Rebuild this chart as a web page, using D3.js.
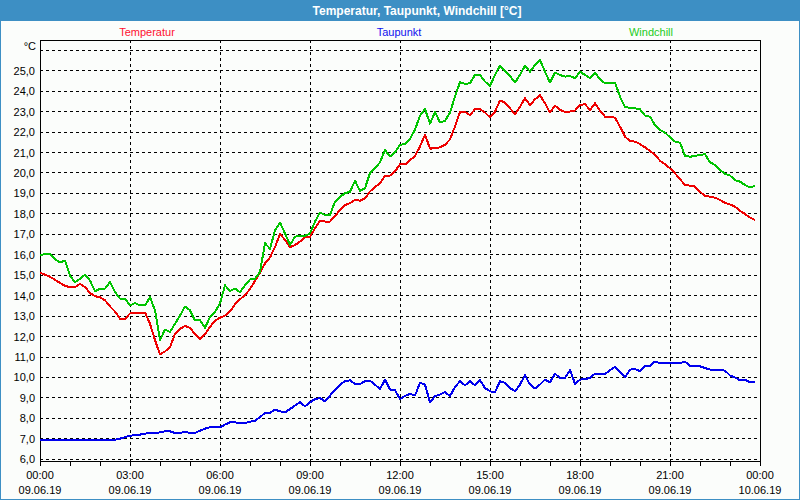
<!DOCTYPE html>
<html>
<head>
<meta charset="utf-8">
<script src="https://cdn.jsdelivr.net/npm/d3@7"></script>
<style>
  html, body { margin: 0; padding: 0; background: #ffffff; }
  svg { display: block; font-family: "Liberation Sans", Arial, sans-serif; }
</style>
</head>
<body>
<svg id="chart" width="800" height="500"></svg>
<script>
// Messwerte alle 10 Minuten, 09.06.19 00:00 bis 23:50
const temperatur = [
  15.1, 15.0, 14.9, 14.75, 14.6, 14.45, 14.4, 14.4, 14.55, 14.4, 14.1, 13.95,
  13.9, 13.75, 13.45, 13.2, 12.85, 12.85, 13.1, 13.15, 13.15, 13.15, 12.6, 11.8,
  11.1, 11.25, 11.45, 12.1, 12.35, 12.5, 12.4, 12.1, 11.85, 12.1, 12.45, 12.75,
  12.9, 13.0, 13.2, 13.55, 13.8, 14.0, 14.3, 14.7, 15.1, 15.55, 15.85, 16.35,
  17.0, 16.7, 16.35, 16.45, 16.62, 16.83, 16.86, 17.27, 17.64, 17.6, 17.6, 17.87,
  18.17, 18.41, 18.5, 18.66, 18.62, 18.74, 19.07, 19.3, 19.46, 19.85, 19.85, 20.05,
  20.41, 20.39, 20.6, 20.81, 21.27, 21.85, 21.17, 21.18, 21.23, 21.35, 21.62, 22.25,
  22.96, 22.96, 22.81, 23.1, 23.1, 22.93, 22.7, 22.98, 23.52, 23.42, 23.14, 22.85,
  23.22, 23.63, 23.3, 23.58, 23.78, 23.39, 22.93, 23.27, 23.06, 22.96, 22.98, 23.03,
  23.3, 23.34, 23.06, 23.39, 23.03, 22.73, 22.73, 22.68, 22.24, 21.75, 21.54, 21.51,
  21.39, 21.23, 21.05, 20.86, 20.58, 20.4, 20.2, 19.96, 19.67, 19.39, 19.36, 19.31,
  19.06, 18.85, 18.82, 18.77, 18.65, 18.52, 18.44, 18.33, 18.13, 17.97, 17.8, 17.68
];

const taupunkt = [
  6.9, 6.93, 6.93, 6.93, 6.93, 6.93, 6.93, 6.93, 6.93, 6.93, 6.93, 6.93,
  6.93, 6.93, 6.93, 6.93, 6.98, 7.06, 7.13, 7.15, 7.18, 7.23, 7.26, 7.26,
  7.29, 7.34, 7.34, 7.26, 7.26, 7.31, 7.26, 7.26, 7.37, 7.47, 7.54, 7.54,
  7.54, 7.67, 7.78, 7.78, 7.75, 7.75, 7.81, 7.86, 8.04, 8.24, 8.24, 8.4,
  8.32, 8.27, 8.43, 8.6, 8.76, 8.56, 8.76, 8.92, 8.97, 8.81, 9.09, 9.38,
  9.62, 9.79, 9.84, 9.66, 9.66, 9.79, 9.82, 9.62, 9.41, 9.87, 9.38, 9.35,
  8.92, 9.07, 9.17, 9.09, 9.71, 9.63, 8.76, 9.06, 9.14, 9.27, 9.06, 9.51,
  9.79, 9.59, 9.79, 9.59, 9.84, 9.46, 9.3, 9.25, 9.79, 9.71, 9.46, 9.3,
  9.63, 10.08, 9.63, 9.43, 9.63, 9.87, 9.74, 10.16, 9.95, 9.95, 10.33, 9.67,
  9.87, 9.9, 9.95, 10.16, 10.15, 10.15, 10.33, 10.49, 10.23, 9.98, 10.36, 10.39,
  10.28, 10.52, 10.55, 10.76, 10.68, 10.68, 10.68, 10.68, 10.68, 10.76, 10.52, 10.52,
  10.52, 10.44, 10.36, 10.33, 10.33, 10.31, 10.07, 9.98, 9.84, 9.87, 9.74, 9.74
];

const windchill = [
  15.94, 16.02, 16.0, 15.75, 15.6, 15.7, 14.95, 14.64, 14.8, 15.0, 14.72, 14.19,
  14.32, 14.32, 14.64, 14.15, 13.83, 13.83, 13.5, 13.62, 13.5, 13.5, 13.9, 13.26,
  11.8, 12.32, 12.2, 12.6, 13.0, 13.45, 13.26, 12.77, 12.77, 12.41, 12.93, 13.18,
  13.6, 14.48, 14.2, 14.32, 14.15, 14.48, 14.77, 14.8, 15.13, 16.54, 16.27, 17.16,
  17.55, 17.02, 16.45, 16.86, 16.9, 16.9, 17.02, 17.6, 18.04, 17.92, 17.92, 18.57,
  18.82, 18.98, 19.06, 19.6, 19.1, 19.23, 19.97, 20.2, 20.5, 21.1, 20.78, 20.98,
  21.36, 21.38, 21.65, 22.09, 22.78, 23.1, 22.39, 22.96, 22.45, 22.52, 22.93, 23.72,
  24.42, 24.33, 24.37, 24.77, 24.77, 24.45, 24.23, 24.77, 25.23, 24.98, 24.72, 24.4,
  24.77, 25.23, 24.93, 25.26, 25.5, 24.93, 24.4, 24.89, 24.77, 24.69, 24.72, 24.61,
  24.93, 24.77, 24.61, 24.89, 24.56, 24.36, 24.4, 24.4, 23.71, 23.19, 23.17, 23.14,
  23.09, 22.78, 22.73, 22.32, 22.08, 21.95, 21.72, 21.51, 21.46, 20.82, 20.77, 20.81,
  20.86, 20.89, 20.5, 20.37, 20.12, 19.93, 19.85, 19.63, 19.55, 19.39, 19.27, 19.34
];

const yTicks = [6, 7, 8, 9, 10, 11, 12, 13, 14, 15, 16, 17, 18, 19, 20, 21, 22, 23, 24, 25];
const xTickTimes = ["00:00", "03:00", "06:00", "09:00", "12:00", "15:00", "18:00", "21:00", "00:00"];
const xTickDates = ["09.06.19", "09.06.19", "09.06.19", "09.06.19", "09.06.19", "09.06.19", "09.06.19", "09.06.19", "10.06.19"];

const seriesNames = ["Temperatur", "Taupunkt", "Windchill"];

const width = 800;
const height = 500;
const margin = { top: 40, right: 40, bottom: 39, left: 40 };

const start = new Date(2019, 5, 9, 0, 0);
const end = new Date(2019, 5, 10, 0, 0);
const times = temperatur.map((d, i) => d3.timeMinute.offset(start, i * 10));

const x = d3.scaleTime()
  .domain([start, end])
  .range([margin.left, width - margin.right]);

const y = d3.scaleLinear()
  .domain([5.89, 26.48])
  .range([height - margin.bottom, margin.top]);

const svg = d3.select("#chart");

// Hintergrund + Fensterrahmen
svg.append("rect")
  .attr("x", 0).attr("y", 0)
  .attr("width", width).attr("height", height)
  .attr("fill", "#3d8fc4");
svg.append("rect")
  .attr("x", 1).attr("y", 21)
  .attr("width", width - 2).attr("height", height - 22)
  .attr("fill", "#fbfdfb");

// Titel
svg.append("text")
  .attr("x", 417)
  .attr("y", 15)
  .attr("text-anchor", "middle")
  .attr("fill", "#ffffff")
  .style("font-size", "12px")
  .style("font-weight", "bold")
  .text("Temperatur, Taupunkt, Windchill [°C]");

// Legende
const legendColors = ["#ff1030", "#1010ee", "#22cc22"];
const legendX = [147, 399, 651];
svg.selectAll("text.legend")
  .data(seriesNames)
  .enter()
  .append("text")
  .attr("class", "legend")
  .attr("x", (d, i) => legendX[i])
  .attr("y", 36)
  .attr("text-anchor", "middle")
  .attr("fill", (d, i) => legendColors[i])
  .style("font-size", "11px")
  .text((d) => d);

// Gitter horizontal (inkl. 26 ohne Beschriftung)
svg.append("g")
  .selectAll("line")
  .data(yTicks.concat([26]))
  .enter()
  .append("line")
  .attr("x1", margin.left)
  .attr("x2", width - margin.right)
  .attr("y1", (d) => Math.round(y(d)) + 0.5)
  .attr("y2", (d) => Math.round(y(d)) + 0.5)
  .attr("stroke", "#000")
  .attr("stroke-dasharray", "3,3")
  .attr("shape-rendering", "crispEdges");

// Gitter vertikal
const vGrid = d3.timeHour.every(3).range(d3.timeHour.offset(start, 3), end);
svg.append("g")
  .selectAll("line")
  .data(vGrid)
  .enter()
  .append("line")
  .attr("x1", (d) => Math.round(x(d)) + 0.5)
  .attr("x2", (d) => Math.round(x(d)) + 0.5)
  .attr("y1", margin.top)
  .attr("y2", height - margin.bottom)
  .attr("stroke", "#000")
  .attr("stroke-dasharray", "3,3")
  .attr("shape-rendering", "crispEdges");

// Rahmen
svg.append("rect")
  .attr("x", margin.left + 0.5)
  .attr("y", margin.top + 0.5)
  .attr("width", width - margin.left - margin.right)
  .attr("height", height - margin.top - margin.bottom)
  .attr("fill", "none")
  .attr("stroke", "#000")
  .attr("shape-rendering", "crispEdges");

// x-Achse: Striche jede Stunde
const xAxis = d3.axisBottom(x)
  .ticks(d3.timeHour.every(1))
  .tickSize(4)
  .tickSizeOuter(0)
  .tickFormat("");
const gx = svg.append("g")
  .attr("transform", `translate(0, ${height - margin.bottom + 0.5})`)
  .call(xAxis);
gx.select(".domain").remove();
gx.selectAll("line").attr("stroke", "#000").attr("shape-rendering", "crispEdges");

// x-Beschriftung
const labelTimes = d3.timeHour.every(3).range(start, d3.timeMinute.offset(end, 1));
const xl = svg.append("g")
  .selectAll("text")
  .data(labelTimes)
  .enter()
  .append("text")
  .attr("text-anchor", "middle")
  .attr("fill", "#000")
  .style("font-size", "11px");
xl.append("tspan")
  .attr("x", (d) => x(d))
  .attr("y", 479)
  .text((d, i) => xTickTimes[i]);
xl.append("tspan")
  .attr("x", (d) => x(d))
  .attr("y", 494)
  .text((d, i) => xTickDates[i]);

// y-Beschriftung
svg.append("g")
  .selectAll("text")
  .data(yTicks)
  .enter()
  .append("text")
  .attr("x", 35)
  .attr("y", (d) => y(d) + 4.5)
  .attr("text-anchor", "end")
  .attr("fill", "#000")
  .style("font-size", "11px")
  .text((d) => d.toFixed(1).replace(".", ","));

svg.append("text")
  .attr("x", 36)
  .attr("y", 50)
  .attr("text-anchor", "end")
  .attr("fill", "#000")
  .style("font-size", "11px")
  .text("°C");

// Kurven (ohne Kantenglättung wie im Original)
const line = d3.line()
  .x((d, i) => x(times[i]))
  .y((d) => y(d));

const lineColors = ["#ee0000", "#0000ee", "#00c400"];
[temperatur, taupunkt, windchill].forEach((values, k) => {
  svg.append("path")
    .datum(values)
    .attr("fill", "none")
    .attr("stroke", lineColors[k])
    .attr("stroke-width", 2)
    .attr("stroke-linejoin", "round")
    .attr("shape-rendering", "crispEdges")
    .attr("d", line);
});
</script>
</body>
</html>
